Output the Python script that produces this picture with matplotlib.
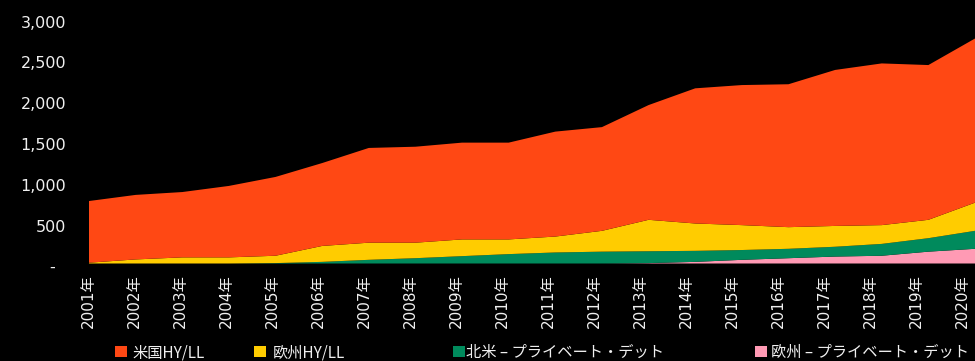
import matplotlib
matplotlib.use("Agg")
import matplotlib.pyplot as plt
from matplotlib.patches import Patch
from matplotlib.ticker import FixedLocator, FuncFormatter
from matplotlib.transforms import ScaledTranslation

# Outstanding volumes by segment (stacked)
years = list(range(2001, 2021))
year_labels = [f"{y}年" for y in years]
series_names = ["米国HY/LL", "欧州HY/LL", "北米 – プライベート・デット", "欧州 – プライベート・デット"]

us_hy_ll = [755, 790, 800, 875, 965, 1015, 1160, 1175, 1185, 1185,
            1285, 1270, 1405, 1655, 1715, 1750, 1910, 1980, 1895, 2010]
eu_hy_ll = [10, 50, 75, 75, 90, 195, 210, 190, 205, 180,
            195, 255, 385, 335, 305, 265, 255, 230, 225, 345]
na_private_debt = [0, 0, 0, 0, 5, 20, 45, 65, 90, 115,
                   135, 145, 145, 135, 120, 115, 120, 145, 165, 220]
eu_private_debt = [0, 0, 0, 0, 0, 0, 0, 0, 0, 0,
                   0, 0, 5, 20, 45, 65, 85, 95, 145, 180]

y_ticks = [0, 500, 1000, 1500, 2000, 2500, 3000]

colors = {
    "米国HY/LL": "#FF4814",
    "欧州HY/LL": "#FFCC00",
    "北米 – プライベート・デット": "#008A5C",
    "欧州 – プライベート・デット": "#FF9AB4",
}
text_color = "#F0F0F0"
cjk = ["Noto Sans CJK JP", "DejaVu Sans"]
latin_first = ["DejaVu Sans", "Noto Sans CJK JP"]

W, H = 975, 361
fig = plt.figure(figsize=(W / 100, H / 100), dpi=100, facecolor="black")
ax = fig.add_axes([89 / W, (H - 263.5) / H, (975 - 89) / W, (263.5 - 18.5) / H])
ax.set_facecolor("black")

# stacked areas, bottom to top
stack_order = [eu_private_debt, na_private_debt, eu_hy_ll, us_hy_ll]
stack_names = [series_names[3], series_names[2], series_names[1], series_names[0]]
ax.stackplot(years, *stack_order,
             colors=[colors[n] for n in stack_names],
             linewidth=0)

ax.set_xlim(years[0], years[-1])
ax.set_ylim(y_ticks[0], y_ticks[-1])
for s in ax.spines.values():
    s.set_visible(False)

ax.yaxis.set_major_locator(FixedLocator(y_ticks))
ax.yaxis.set_major_formatter(FuncFormatter(lambda v, p: "-  " if v == 0 else f"{int(v):,}"))
ax.tick_params(axis="y", length=0, pad=16.5, colors=text_color, labelsize=11.5)
for lab in ax.get_yticklabels():
    lab.set_fontfamily(latin_first)
    lab.set_transform(lab.get_transform() + ScaledTranslation(0, -3 / 100, fig.dpi_scale_trans))

ax.set_xticks(years)
ax.set_xticklabels(year_labels, rotation=90, fontfamily=latin_first)
ax.tick_params(axis="x", length=0, pad=8, colors=text_color, labelsize=11)
# category labels sit on a slightly tighter pitch than the plotted points
for i, lab in enumerate(ax.get_xticklabels()):
    dx = -(0.5 + 0.62 * i)
    lab.set_transform(lab.get_transform() + ScaledTranslation(dx / 100, 0, fig.dpi_scale_trans))

# legend entries, one per series, spread along the bottom
legend_x = [115, 254, 453, 755]
legend_pad = [0.35, 0.42, 0.06, 0.25]
legend_y = (H - 352.5) / H
for i, name in enumerate(series_names):
    leg = fig.legend(handles=[Patch(facecolor=colors[name], edgecolor="none", label=name)],
                     loc="center left", bbox_to_anchor=(legend_x[i] / W, legend_y),
                     bbox_transform=fig.transFigure, frameon=False,
                     borderpad=0, borderaxespad=0, handlelength=0.78, handleheight=0.78,
                     handletextpad=legend_pad[i],
                     prop={"family": cjk, "size": 11})
    for t in leg.get_texts():
        t.set_color(text_color)

fig.savefig("out.png", dpi=100, facecolor="black")
